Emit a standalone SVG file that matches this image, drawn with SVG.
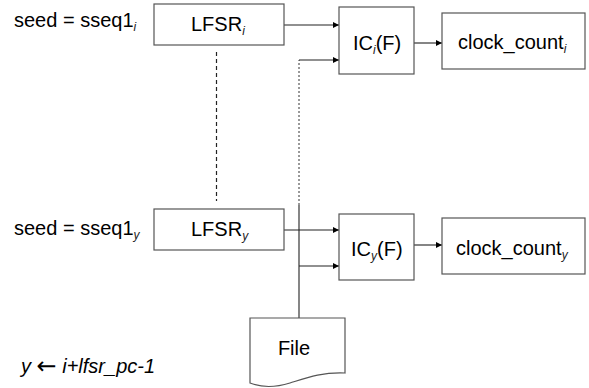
<svg xmlns="http://www.w3.org/2000/svg" width="589" height="388" viewBox="0 0 589 388">
<style>
.box{fill:#fff;stroke:#555;stroke-width:1.2}
.t{font-family:"Liberation Sans",Arial,sans-serif;font-size:20px;fill:#000}
.s{font-family:"Liberation Sans",Arial,sans-serif;font-size:12px;font-style:italic;fill:#222}
.it{font-family:"Liberation Sans",Arial,sans-serif;font-size:20px;font-style:italic;fill:#000}
.ln{fill:none;stroke:#222;stroke-width:1.1}
.dot{fill:none;stroke:#333;stroke-width:1;stroke-dasharray:2,2}
.dash{fill:none;stroke:#222;stroke-width:1.2;stroke-dasharray:4,3}
</style>
<defs>
<marker id="ah" viewBox="0 0 10 10" refX="10" refY="5" markerWidth="8" markerHeight="6" markerUnits="userSpaceOnUse" orient="auto">
<path d="M0,0 L10,5 L0,10 Z" fill="#000"/>
</marker>
</defs>
<rect width="589" height="388" fill="#fff"/>
<g id="connectors">
<line class="ln" x1="284" y1="25" x2="339" y2="25" marker-end="url(#ah)"/>
<path class="dot" d="M299,205 V60"/>
<line class="ln" x1="299" y1="60" x2="339" y2="60" marker-end="url(#ah)"/>
<line class="ln" x1="414" y1="43" x2="442" y2="43" marker-end="url(#ah)"/>
<line class="dash" x1="216.5" y1="52" x2="216.5" y2="201"/>
<line class="ln" x1="284" y1="230" x2="339" y2="230" marker-end="url(#ah)"/>
<line class="ln" x1="299" y1="205" x2="299" y2="318"/>
<line class="ln" x1="299" y1="266" x2="339" y2="266" marker-end="url(#ah)"/>
<line class="ln" x1="414" y1="245" x2="442" y2="245" marker-end="url(#ah)"/>
</g>
<g id="seed_i"><text class="t" x="14" y="27">seed = sseq1<tspan class="s" dy="4">i</tspan></text></g>
<g id="lfsr_i"><rect class="box" x="154" y="4" width="130" height="41"/><text class="t" x="191" y="31">LFSR<tspan class="s" dy="4">i</tspan></text></g>
<g id="ic_i"><rect class="box" x="339" y="7" width="75" height="67"/><text class="t" x="353" y="50">IC<tspan class="s" dy="4">i</tspan><tspan dy="-4">(F)</tspan></text></g>
<g id="clock_i"><rect class="box" x="442" y="13" width="143" height="56"/><text class="t" x="458" y="49">clock_count<tspan class="s" dy="4">i</tspan></text></g>
<g id="seed_y"><text class="t" x="14" y="235">seed = sseq1<tspan class="s" dy="4">y</tspan></text></g>
<g id="lfsr_y"><rect class="box" x="154" y="209" width="130" height="41"/><text class="t" x="191" y="236">LFSR<tspan class="s" dy="4">y</tspan></text></g>
<g id="ic_y"><rect class="box" x="339" y="214" width="75" height="66"/><text class="t" x="351" y="256">IC<tspan class="s" dy="4">y</tspan><tspan dy="-4">(F)</tspan></text></g>
<g id="clock_y"><rect class="box" x="442" y="218" width="143" height="56"/><text class="t" x="456" y="255">clock_count<tspan class="s" dy="4">y</tspan></text></g>
<g id="file"><path class="box" d="M250,318 H345 V373 C322,372 306,378 290,383 C274,388 260,387 250,383 Z"/><text class="t" x="294" y="355" text-anchor="middle">File</text></g>
<g id="note"><text class="it" x="21" y="373">y <tspan font-family="'DejaVu Sans',sans-serif" font-style="normal" font-size="24px" dy="1">←</tspan><tspan dy="-1"> i+lfsr_pc-1</tspan></text></g>
</svg>
